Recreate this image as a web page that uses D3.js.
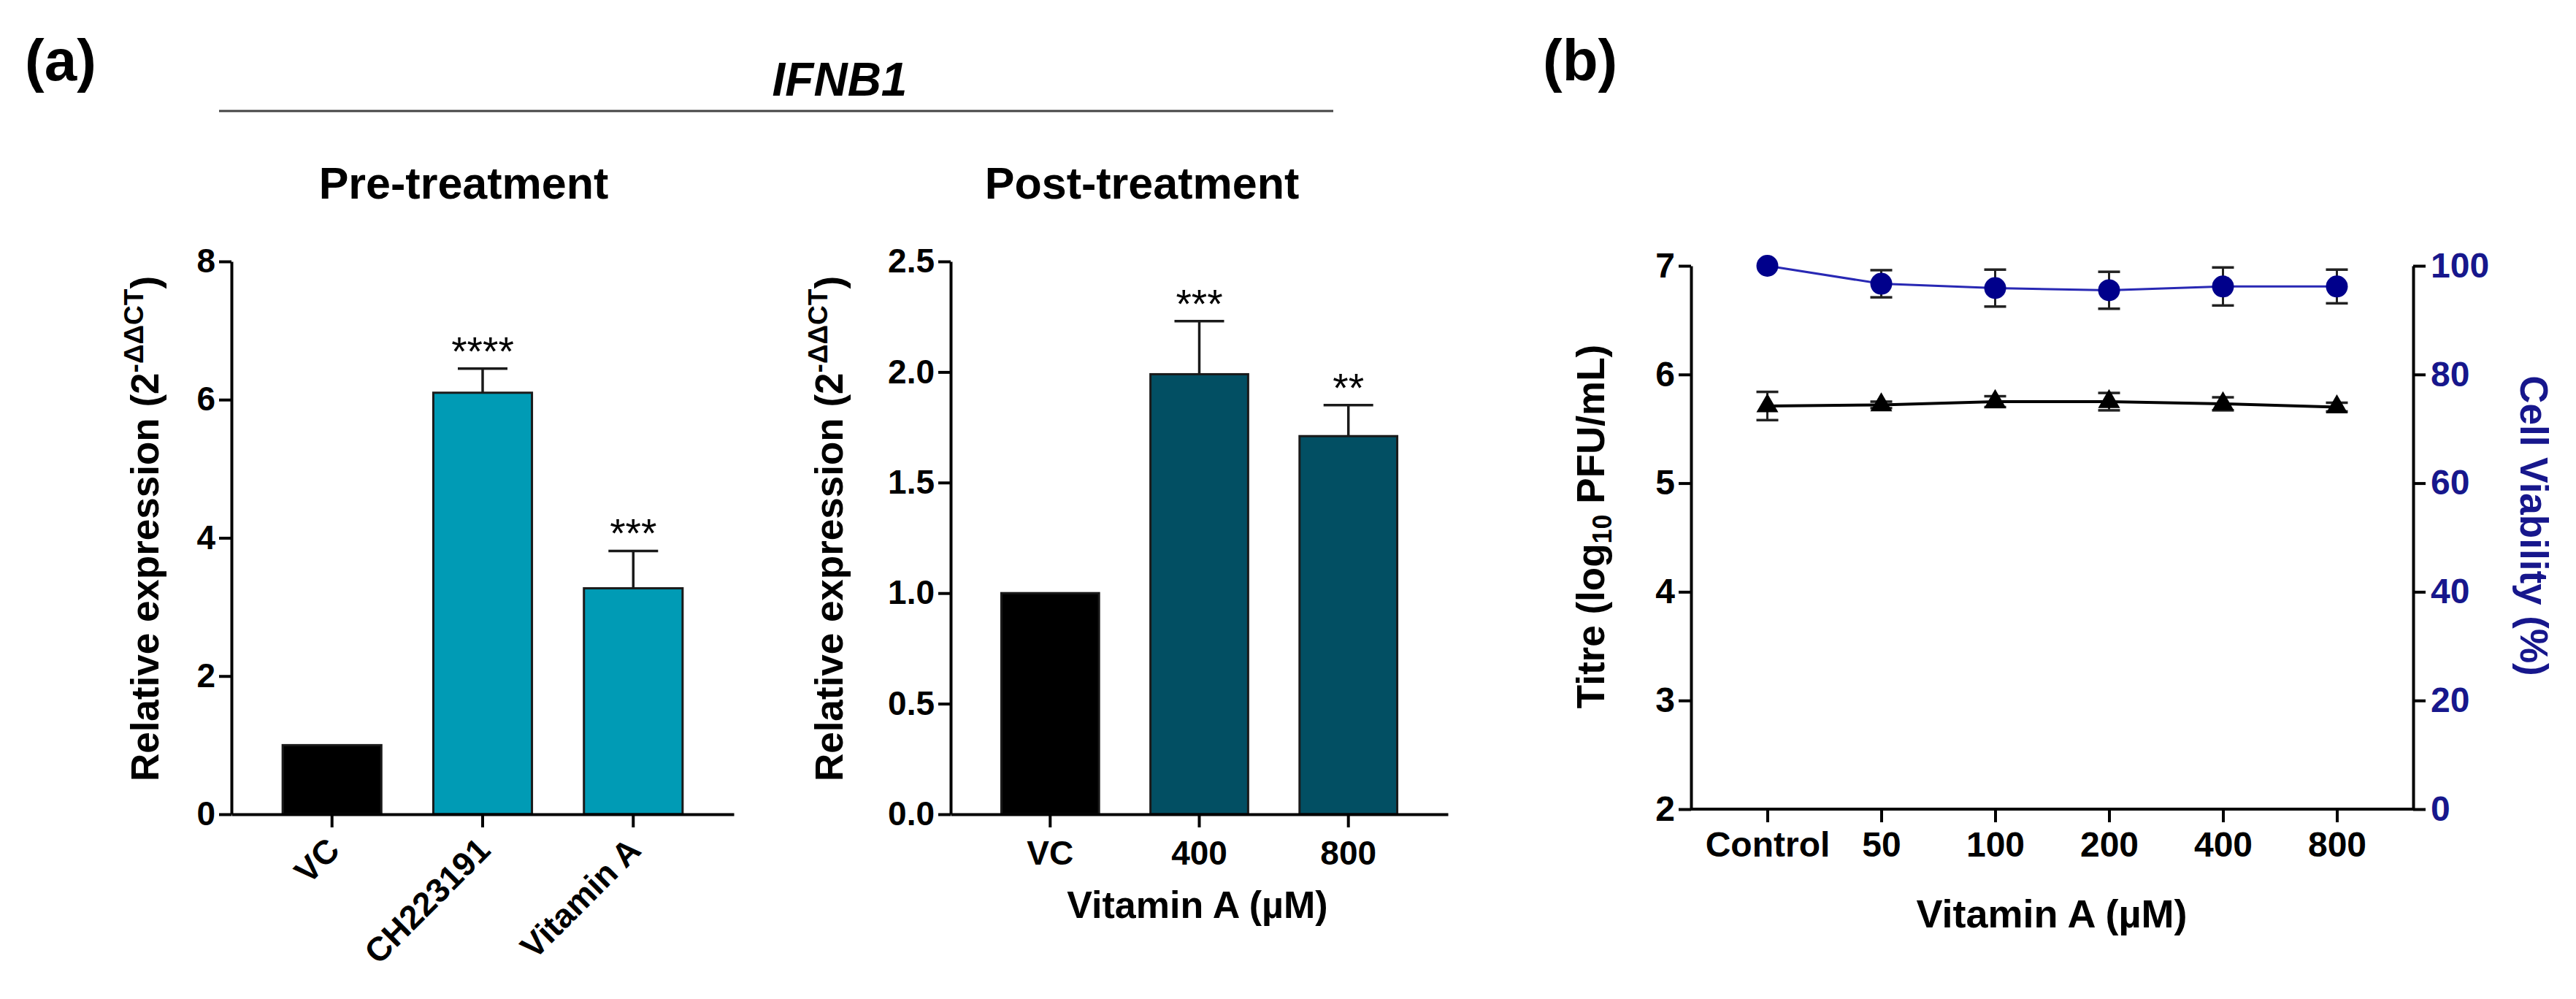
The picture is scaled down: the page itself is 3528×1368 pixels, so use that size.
<!DOCTYPE html>
<html>
<head>
<meta charset="utf-8">
<script src="https://cdn.jsdelivr.net/npm/d3@7"></script>
<style>
  body { margin: 0; background: #fff; }
  svg { display: block; }
</style>
</head>
<body>
<script>
// (a) IFNB1 relative expression
var preCats = ["VC", "CH223191", "Vitamin A"];
var preVals = [1.0, 6.1, 3.27];
var preErr = [0, 0.35, 0.54];
var preStars = ["", "****", "***"];

var postCats = ["VC", "400", "800"];
var postVals = [1.0, 1.99, 1.71];
var postErr = [0, 0.24, 0.14];
var postStars = ["", "***", "**"];

// (b) titre + viability vs dose
var doses = ["Control", "50", "100", "200", "400", "800"];
var titre = [5.71, 5.72, 5.75, 5.75, 5.73, 5.70];
var titreErr = [0.13, 0.03, 0.05, 0.08, 0.06, 0.04];
var viability = [100, 96.7, 95.9, 95.5, 96.2, 96.2];
var viabilityErr = [0, 2.5, 3.4, 3.4, 3.5, 3.1];

var FONT = "'Liberation Sans', Arial, Helvetica, sans-serif";
var NAVY = "#17178c";

var svg = d3.select("body").append("svg")
    .attr("width", 3528)
    .attr("height", 1368)
    .attr("font-family", FONT);

function styleAxis(g, size, color) {
    g.attr("font-family", FONT).attr("font-size", size).attr("font-weight", "bold");
    g.selectAll("path, line").attr("stroke", "#000").attr("stroke-width", 4);
    g.selectAll("text").attr("fill", color || "#000");
}

function label(x, y, txt, size, opts) {
    opts = opts || {};
    return svg.append("text")
        .attr("x", x).attr("y", y)
        .attr("text-anchor", opts.anchor || "middle")
        .attr("font-size", size)
        .attr("font-weight", opts.weight || "bold")
        .attr("font-style", opts.style || "normal")
        .attr("fill", opts.fill || "#000")
        .text(txt);
}

// panel letters, gene header
label(34, 110, "(a)", 80, {anchor: "start"});
label(2113, 110, "(b)", 80, {anchor: "start"});
label(1150, 131, "IFNB1", 64, {style: "italic"});
svg.append("line")
    .attr("x1", 300).attr("x2", 1826)
    .attr("y1", 152).attr("y2", 152)
    .attr("stroke", "#444").attr("stroke-width", 3);

// rotated y title with 2^-ΔΔCT
function exprTitle(x, y) {
    var t = svg.append("text")
        .attr("transform", "translate(" + x + "," + y + ") rotate(-90)")
        .attr("text-anchor", "middle")
        .attr("font-size", 53).attr("font-weight", "bold");
    t.append("tspan").text("Relative expression (2");
    t.append("tspan").attr("font-size", 37).attr("dy", -21).text("-ΔΔCT");
    t.append("tspan").attr("dy", 21).text(")");
}

function barChart(cats, vals, errs, stars, yMax, yTicks, yFmt, x0, x1, colors) {
    var y = d3.scaleLinear().domain([0, yMax]).range([1115, 358]);
    var x = d3.scaleBand().domain(cats).range([x0, x1]).paddingInner(0.345).paddingOuter(0.34);

    var bars = svg.append("g");
    bars.selectAll("rect").data(vals).enter().append("rect")
        .attr("x", function (d, i) { return x(cats[i]); })
        .attr("y", function (d) { return y(d); })
        .attr("width", x.bandwidth())
        .attr("height", function (d) { return y(0) - y(d); })
        .attr("fill", function (d, i) { return colors[i]; })
        .attr("stroke", "#1a1a1a").attr("stroke-width", 3);

    // upper error bars only
    cats.forEach(function (c, i) {
        if (!errs[i]) return;
        var cx = x(c) + x.bandwidth() / 2;
        var top = y(vals[i] + errs[i]);
        bars.append("line").attr("x1", cx).attr("x2", cx)
            .attr("y1", y(vals[i])).attr("y2", top)
            .attr("stroke", "#1a1a1a").attr("stroke-width", 3.5);
        bars.append("line").attr("x1", cx - 34).attr("x2", cx + 34)
            .attr("y1", top).attr("y2", top)
            .attr("stroke", "#1a1a1a").attr("stroke-width", 3.5);
        label(cx, top - 5, stars[i], 55, {weight: "normal"});
    });

    var gy = svg.append("g").attr("transform", "translate(" + x0 + ",0)")
        .call(d3.axisLeft(y).tickValues(yTicks).tickFormat(yFmt).tickSize(17).tickPadding(5).tickSizeOuter(0));
    styleAxis(gy, 46);

    var gx = svg.append("g").attr("transform", "translate(0," + y(0) + ")")
        .call(d3.axisBottom(x).tickSize(18).tickPadding(18).tickSizeOuter(0));
    styleAxis(gx, 46);
    return gx;
}

// Pre-treatment
label(635, 272, "Pre-treatment", 61);
var preX = barChart(preCats, preVals, preErr, preStars, 8, [0, 2, 4, 6, 8], d3.format("d"),
    317, 1005, ["#000", "#009bb5", "#009bb5"]);
preX.selectAll(".tick text")
    .attr("y", 0).attr("dy", 0)
    .attr("text-anchor", "end")
    .attr("transform", "translate(13,52) rotate(-45)");
exprTitle(217, 724);

// Post-treatment
label(1564, 272, "Post-treatment", 61);
barChart(postCats, postVals, postErr, postStars, 2.5, [0, 0.5, 1, 1.5, 2, 2.5], d3.format(".1f"),
    1302, 1983, ["#000", "#024f63", "#024f63"]);
exprTitle(1154, 724);
label(1640, 1257, "Vitamin A (µM)", 52);

// (b) dual axis line chart
var xb = d3.scalePoint().domain(doses).range([2316, 3305]).padding(0.67);
var yL = d3.scaleLinear().domain([2, 7]).range([1108, 364]);
var yR = d3.scaleLinear().domain([0, 100]).range([1108, 364]);

var gb = svg.append("g");

function errBars(vals, errs, yScale) {
    doses.forEach(function (d, i) {
        if (!errs[i]) return;
        var cx = xb(d), hi = yScale(vals[i] + errs[i]), lo = yScale(vals[i] - errs[i]);
        gb.append("line").attr("x1", cx).attr("x2", cx).attr("y1", hi).attr("y2", lo)
            .attr("stroke", "#222").attr("stroke-width", 3);
        [hi, lo].forEach(function (yy) {
            gb.append("line").attr("x1", cx - 15).attr("x2", cx + 15).attr("y1", yy).attr("y2", yy)
                .attr("stroke", "#222").attr("stroke-width", 3.5);
        });
    });
}
errBars(titre, titreErr, yL);
errBars(viability, viabilityErr, yR);

gb.append("path").datum(titre)
    .attr("fill", "none").attr("stroke", "#000").attr("stroke-width", 4)
    .attr("d", d3.line().x(function (d, i) { return xb(doses[i]); }).y(function (d) { return yL(d); }));
gb.append("path").datum(viability)
    .attr("fill", "none").attr("stroke", "#2828b4").attr("stroke-width", 3)
    .attr("d", d3.line().x(function (d, i) { return xb(doses[i]); }).y(function (d) { return yR(d); }));

gb.selectAll(".tri").data(titre).enter().append("path")
    .attr("class", "tri")
    .attr("transform", function (d, i) { return "translate(" + xb(doses[i]) + "," + yL(d) + ")"; })
    .attr("d", d3.symbol().type(d3.symbolTriangle).size(390))
    .attr("fill", "#000");
gb.selectAll(".dot").data(viability).enter().append("circle")
    .attr("class", "dot")
    .attr("cx", function (d, i) { return xb(doses[i]); })
    .attr("cy", function (d) { return yR(d); })
    .attr("r", 15)
    .attr("fill", "#00008b");

var gbl = svg.append("g").attr("transform", "translate(2316,0)")
    .call(d3.axisLeft(yL).tickValues([2, 3, 4, 5, 6, 7]).tickFormat(d3.format("d")).tickSize(17).tickPadding(5).tickSizeOuter(0));
styleAxis(gbl, 48);
var gbr = svg.append("g").attr("transform", "translate(3305,0)")
    .call(d3.axisRight(yR).tickValues([0, 20, 40, 60, 80, 100]).tickSize(17).tickPadding(7).tickSizeOuter(0));
styleAxis(gbr, 48, NAVY);
var gbx = svg.append("g").attr("transform", "translate(0,1108)")
    .call(d3.axisBottom(xb).tickSize(18).tickPadding(13).tickSizeOuter(0));
styleAxis(gbx, 48);
gbx.select(".domain").attr("d", "M2316,0H3305");

label(2810, 1270, "Vitamin A (µM)", 54);

var tt = svg.append("text")
    .attr("transform", "translate(2197,721) rotate(-90)")
    .attr("text-anchor", "middle")
    .attr("font-size", 53).attr("font-weight", "bold");
tt.append("tspan").text("Titre (log");
tt.append("tspan").attr("font-size", 36).attr("dy", 10).text("10");
tt.append("tspan").attr("dy", -10).text(" PFU/mL)");

svg.append("text")
    .attr("transform", "translate(3452,720) rotate(90)")
    .attr("text-anchor", "middle")
    .attr("font-size", 53).attr("font-weight", "bold")
    .attr("fill", NAVY)
    .text("Cell Viability (%)");
</script>
</body>
</html>
